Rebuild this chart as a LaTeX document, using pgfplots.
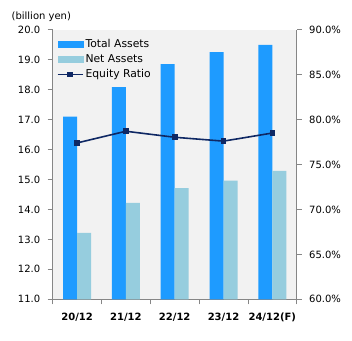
\documentclass[border=0pt]{standalone}
\usepackage{fontspec}
\setmainfont{DejaVu Sans}
\usepackage{pgfplots}
\pgfplotsset{compat=1.18}
\definecolor{tblue}{RGB}{30,155,255}
\definecolor{nblue}{RGB}{150,205,222}
\definecolor{navy}{RGB}{15,40,100}
\definecolor{bg}{RGB}{242,242,242}
\definecolor{axgray}{RGB}{134,134,134}
\begin{document}
\begin{tikzpicture}
\pgfplotsset{
  every axis/.append style={
    scale only axis, width=244pt, height=269.6pt,
    xmin=-0.5, xmax=4.5,
    /pgf/number format/assume math mode=true,
    font=\fontsize{10}{12}\selectfont,
    tick style={axgray, line width=0.8pt},
    axis line style={axgray, line width=0.8pt, -},
    major tick length=5pt, tick align=outside,
  }
}
\begin{axis}[
  at={(0,0)}, anchor=south west,
  axis background/.style={fill=bg},
  axis x line*=bottom, axis y line*=left,
  ymin=11, ymax=20, ytick={11,12,...,20},
  yticklabel={\pgfmathprintnumber[fixed,fixed zerofill,precision=1]{\tick}},
  yticklabel style={xshift=-4pt},
  xtick={-0.5,0.5,1.5,2.5,3.5,4.5}, xticklabels={},
  extra x ticks={0,1,2,3,4},
  extra x tick labels={20/12,21/12,22/12,23/12,24/12(F)},
  extra x tick style={major tick length=0pt, tick style={draw=none},
    xticklabel style={font=\bfseries\fontsize{10}{12}\selectfont, yshift=-10pt}},
  ybar, bar width=14pt,
]
\addplot[draw=none, fill=tblue, bar shift=-7pt] coordinates {(0,17.1) (1,18.08) (2,18.85) (3,19.25) (4,19.49)};
\addplot[draw=none, fill=nblue, bar shift=7pt] coordinates {(0,13.22) (1,14.22) (2,14.71) (3,14.96) (4,15.29)};
\end{axis}
\begin{axis}[
  at={(0,0)}, anchor=south west,
  axis x line=none, axis y line*=right,
  ymin=60, ymax=90, ytick={60,65,...,90},
  yticklabel={\pgfmathprintnumber[fixed,fixed zerofill,precision=1]{\tick}\%},
  yticklabel style={xshift=4pt},
  legend style={at={(axis description cs:0,1)}, anchor=north west,
    xshift=4pt, yshift=-7.5pt, draw=none, fill=none, inner sep=0pt,
    row sep=1.6pt, font=\fontsize{10.8}{12}\selectfont},
  legend cell align=left,
]
\addlegendimage{legend image code/.code={\fill[tblue] (0pt,-3pt) rectangle (25pt,3pt);}}
\addlegendentry{Total Assets}
\addlegendimage{legend image code/.code={\fill[nblue] (0pt,-3pt) rectangle (25pt,3pt);}}
\addlegendentry{Net Assets}
\addplot[navy, line width=1.6pt, mark=square*, mark size=2pt, mark options={solid},
  legend image code/.code={\draw[navy, line width=1.6pt] (0pt,0pt) -- (25pt,0pt);
    \fill[navy] (10.5pt,-2pt) rectangle (14.5pt,2pt);}]
  coordinates {(0,77.4) (1,78.7) (2,78.03) (3,77.6) (4,78.5)};
\addlegendentry{Equity Ratio}
\end{axis}
\node[font=\fontsize{10}{12}\selectfont] at (-11.4pt,283pt) {(billion yen)};
\path[use as bounding box] (-52.7pt,-40.7pt) rectangle (299.3pt,299.3pt);
\end{tikzpicture}
\end{document}
